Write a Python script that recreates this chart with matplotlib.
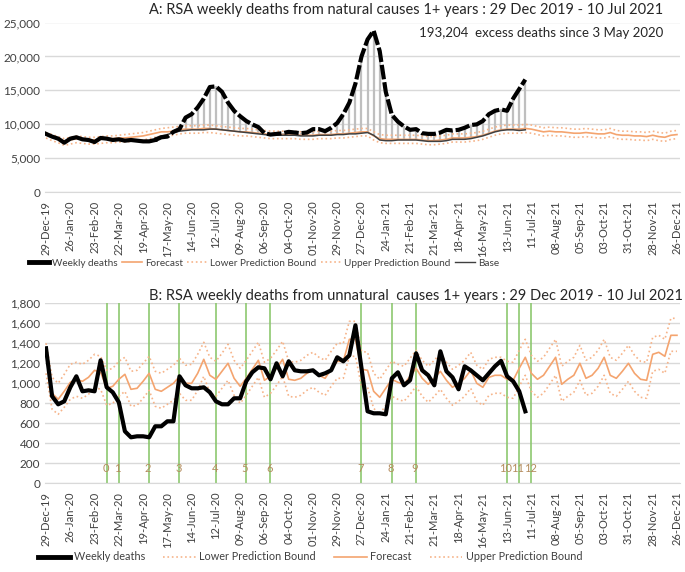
import numpy as np
import pandas as pd
import matplotlib
matplotlib.use('Agg')
import matplotlib.pyplot as plt
from matplotlib.lines import Line2D
from matplotlib.ticker import FuncFormatter

plt.rcParams['font.family'] = ['Lato', 'DejaVu Sans']

# weeks 29-Dec-2019 .. 26-Dec-2021
weeks = pd.date_range('2019-12-29', periods=105, freq='7D')

# ---- A: natural causes ----
natural = [8600, 8200, 7900, 7300, 7900, 8100, 7800, 7700, 7400, 8000,
           7900, 7700, 7800, 7600, 7700, 7600, 7500, 7500, 7700, 8100,
           8200, 8900, 9300, 11000, 11500, 12500, 13800, 15500, 15600, 14800,
           13200, 12000, 11200, 10500, 10000, 9600, 8700, 8500, 8600, 8700,
           8900, 8800, 8700, 8800, 9300, 9300, 9000, 9500, 10200, 11500,
           13200, 16000, 20000, 22500, 23800, 20800, 14800, 11400, 10400, 9700,
           9200, 9300, 8700, 8600, 8600, 8800, 9200, 9100, 9200, 9500,
           9900, 10000, 10500, 11500, 12000, 12200, 12000, 13800, 15200, 16600]

# base from 3 May 2020 (week 18) to week 79
base = [8000, 8300, 8500, 8800, 9000, 9100, 9200, 9200, 9200, 9300, 9300, 9200,
        9100, 9000, 8900, 8800, 8700, 8600, 8500, 8400, 8400, 8400,
        8400, 8400, 8300, 8300, 8300, 8400, 8400, 8400, 8500, 8500,
        8600, 8600, 8700, 8800, 8400, 7700, 7600, 7600, 7700, 7700,
        7700, 7700, 7600, 7500, 7500, 7500, 7600, 7800, 7800, 7800,
        7900, 8100, 8300, 8600, 8900, 9100, 9200, 9200, 9100, 9200]

forecast_nat = [8500, 8200, 7900, 7500, 7700, 7900, 7800, 7700, 7700, 7800,
                7900, 7900, 8000, 8000, 8100, 8200, 8300, 8500, 8700, 8900,
                8900, 9000, 9200, 9300, 9300, 9300, 9400, 9400, 9300, 9200,
                9100, 9000, 8900, 8900, 8800, 8700, 8600, 8500, 8500, 8500,
                8500, 8500, 8400, 8400, 8400, 8500, 8500, 8500, 8600, 8600,
                8700, 8800, 8900, 8900, 8300, 7900, 7800, 7800, 7800, 7800,
                7800, 7800, 7700, 7600, 7600, 7700, 7800, 8000, 8000, 8000,
                8100, 8200, 8400, 8700, 9000, 9200, 9300, 9300, 9300, 9400,
                9300, 9100, 8900, 9000, 8900, 8900, 8800, 8700, 8700, 8800,
                8700, 8600, 8600, 8800, 8500, 8400, 8400, 8300, 8300, 8200,
                8400, 8200, 8100, 8400, 8500]

upper_nat = [8800, 8500, 8200, 7900, 8100, 8300, 8200, 8100, 8100, 8200,
             8300, 8300, 8400, 8500, 8600, 8700, 8800, 9000, 9200, 9400,
             9500, 9600, 9700, 9800, 9800, 9800, 9900, 9900, 9800, 9700,
             9600, 9500, 9400, 9400, 9300, 9200, 9100, 9000, 9000, 9000,
             9000, 9000, 8900, 8900, 8900, 9000, 9000, 9000, 9100, 9100,
             9200, 9300, 9400, 9400, 8900, 8500, 8400, 8400, 8400, 8400,
             8400, 8400, 8300, 8200, 8200, 8300, 8400, 8600, 8600, 8600,
             8700, 8800, 9000, 9300, 9600, 9800, 9900, 9900, 9900, 10000,
             9900, 9700, 9500, 9600, 9500, 9500, 9400, 9300, 9300, 9400,
             9300, 9200, 9200, 9400, 9100, 9000, 9000, 8900, 8900, 8800,
             9000, 8800, 8700, 9000, 9100]

lower_nat = [8000, 7600, 7300, 6900, 7100, 7300, 7200, 7100, 7100, 7200,
             7300, 7300, 7400, 7400, 7500, 7600, 7700, 7900, 8100, 8300,
             8300, 8400, 8600, 8700, 8700, 8700, 8800, 8800, 8700, 8600,
             8500, 8400, 8300, 8300, 8200, 8100, 8000, 7900, 7900, 7900,
             7900, 7900, 7800, 7800, 7800, 7900, 7900, 7900, 8000, 8000,
             8100, 8200, 8300, 8300, 7700, 7300, 7200, 7200, 7200, 7200,
             7200, 7200, 7100, 7000, 7000, 7100, 7200, 7400, 7400, 7400,
             7500, 7600, 7800, 8100, 8400, 8600, 8700, 8700, 8700, 8800,
             8700, 8500, 8300, 8400, 8300, 8300, 8200, 8100, 8100, 8200,
             8100, 8000, 8000, 8200, 7900, 7800, 7800, 7700, 7700, 7600,
             7800, 7600, 7500, 7800, 7900]

# ---- B: unnatural causes ----
unnatural = [1350, 870, 790, 820, 960, 1070, 920, 930, 920, 1230,
             960, 910, 810, 520, 460, 470, 470, 460, 570, 570,
             620, 620, 1070, 980, 950, 950, 960, 910, 820, 790,
             790, 850, 850, 1020, 1110, 1160, 1150, 1040, 1200, 1070,
             1220, 1130, 1120, 1120, 1130, 1080, 1100, 1130, 1260, 1220,
             1280, 1580, 1150, 720, 700, 700, 690, 1050, 1110, 980,
             1030, 1300, 1130, 1080, 980, 1320, 1120, 1060, 940, 1170,
             1130, 1080, 1030, 1100, 1170, 1225, 1070, 1020, 920, 720]

forecast_un = [1300, 900, 840, 920, 1010, 1040, 1020, 1060, 1130, 1110,
               950, 970, 1040, 1090, 940, 950, 1020, 1100, 940, 920,
               960, 1000, 1070, 1000, 1000, 1100, 1240, 1080, 1040, 1120,
               1200, 1050, 970, 1050, 1140, 1230, 1030, 1070, 1150, 1240,
               1040, 1030, 1050, 1100, 1130, 1080, 1050, 1140, 1220, 1220,
               1440, 1440, 1140, 1130, 920, 860, 950, 1040, 1010, 990,
               1070, 1150, 1050, 990, 1050, 1120, 1030, 960, 1000, 1050,
               1130, 1000, 960, 1060, 1080, 1080, 1040, 1030, 1150, 1260,
               1100, 1040, 1080, 1170, 1260, 990, 1040, 1080, 1200, 1050,
               1080, 1150, 1260, 1080, 1050, 1120, 1200, 1100, 1040, 1030,
               1290, 1310, 1270, 1480, 1480]

upper_un = [1400, 1060, 1000, 1090, 1190, 1210, 1190, 1230, 1290, 1270,
            1130, 1150, 1220, 1260, 1120, 1130, 1200, 1270, 1120, 1100,
            1140, 1180, 1250, 1180, 1190, 1290, 1410, 1260, 1220, 1300,
            1390, 1230, 1150, 1230, 1320, 1410, 1210, 1250, 1330, 1420,
            1220, 1210, 1230, 1280, 1310, 1260, 1230, 1320, 1400, 1400,
            1620, 1620, 1320, 1310, 1100, 1040, 1130, 1220, 1190, 1170,
            1250, 1330, 1230, 1170, 1230, 1300, 1210, 1140, 1180, 1230,
            1310, 1180, 1140, 1240, 1260, 1260, 1220, 1210, 1330, 1440,
            1280, 1220, 1260, 1350, 1440, 1170, 1220, 1260, 1380, 1230,
            1260, 1330, 1440, 1260, 1230, 1300, 1380, 1280, 1220, 1210,
            1460, 1480, 1440, 1650, 1650]

lower_un = [1100, 740, 690, 760, 840, 870, 850, 890, 960, 940,
            780, 800, 870, 920, 770, 780, 850, 930, 770, 750,
            790, 830, 900, 830, 830, 930, 1070, 910, 870, 950,
            1030, 880, 800, 880, 970, 1060, 860, 900, 980, 1070,
            870, 860, 880, 930, 960, 910, 880, 970, 1050, 1050,
            1270, 1270, 970, 960, 750, 690, 780, 870, 840, 820,
            890, 970, 870, 810, 870, 940, 850, 780, 820, 870,
            950, 820, 780, 880, 900, 900, 860, 850, 970, 1080,
            920, 860, 900, 990, 1080, 820, 870, 910, 1030, 880,
            900, 970, 1080, 900, 870, 940, 1020, 920, 860, 850,
            1120, 1140, 1100, 1320, 1320]

# lockdown level changes (week index) labelled 0..12
events = [10, 12, 17, 22, 28, 33, 37, 52, 57, 61, 76, 78, 80]

x = np.arange(len(weeks))
tick_pos = x[::4]
tick_labels = [d.strftime('%d-%b-%y') for d in weeks[::4]]

ORANGE = '#f4a46f'
ORANGE_L = '#f6b48a'
GRID = '#d9d9d9'
TXT = '#404040'

fig = plt.figure(figsize=(6.85, 5.72), dpi=100)
ax1 = fig.add_axes([45/685, 1-192.3/572, 635/685, (192.3-22.5)/572])
ax2 = fig.add_axes([45/685, 1-483.3/572, 635/685, (483.3-303.3)/572])

for ax in (ax1, ax2):
    ax.set_xlim(-0.17, 104.5)
    ax.set_xticks(tick_pos)
    ax.set_xticklabels(tick_labels, rotation=90, fontsize=8, color=TXT)
    ax.grid(axis='y', color=GRID, lw=1)
    ax.set_axisbelow(True)
    for s in ['top', 'right', 'left']:
        ax.spines[s].set_visible(False)
    ax.spines['bottom'].set_color(GRID)
    ax.tick_params(length=0, labelsize=8.5, colors=TXT)
    ax.tick_params(axis='x', labelsize=8, pad=6)
    ax.yaxis.set_major_formatter(FuncFormatter(lambda v, p: '{:,.0f}'.format(v)))

# top chart
ax1.set_ylim(0, 25000)
ax1.set_yticks(np.arange(0, 25001, 5000))
xe = x[18:80]
ax1.vlines(xe, base, natural[18:], color='#bfbfbf', lw=1.6, zorder=2)
ax1.plot(x, upper_nat, ':', color=ORANGE_L, lw=1.2, zorder=3)
ax1.plot(x, lower_nat, ':', color=ORANGE_L, lw=1.2, zorder=3)
ax1.plot(x, forecast_nat, color=ORANGE, lw=1.2, zorder=3)
ax1.plot(xe, base, color=TXT, lw=1.1, zorder=4)
ax1.plot(x[:19], natural[:19], color='black', lw=3, zorder=5)
ax1.plot(xe, natural[18:], color='black', lw=3, dashes=(3.5, 0.7), zorder=5)

# bottom chart
ax2.set_ylim(0, 1800)
ax2.set_yticks(np.arange(0, 1801, 200))
for i, w in enumerate(events):
    ax2.axvline(w, color='#8dc870', lw=1.2, zorder=1)
    ax2.text(w - 0.2, 150, str(i), ha='center', va='center', fontsize=8,
             color='#b48c5e', zorder=6)
ax2.plot(x, upper_un, ':', color=ORANGE_L, lw=1.2, zorder=3)
ax2.plot(x, lower_un, ':', color=ORANGE_L, lw=1.2, zorder=3)
ax2.plot(x, forecast_un, color=ORANGE, lw=1.2, zorder=3)
ax2.plot(x[:80], unnatural, color='black', lw=3, zorder=5)

# titles / notes
fig.text(663/685, 1-10/572,
         'A: RSA weekly deaths from natural causes 1+ years : 29 Dec 2019 - 10 Jul 2021',
         ha='right', va='center', fontsize=10.5, color='#262626')
fig.text(663/685, 1-33/572, '193,204  excess deaths since 3 May 2020',
         ha='right', va='center', fontsize=9.5, color='#262626')
fig.text(683/685, 1-296/572,
         'B: RSA weekly deaths from unnatural  causes 1+ years : 29 Dec 2019 - 10 Jul 2021',
         ha='right', va='center', fontsize=10.5, color='#262626')

h_dead = Line2D([], [], color='black', lw=3.5)
h_fc = Line2D([], [], color=ORANGE, lw=1.2)
h_lo = Line2D([], [], color=ORANGE_L, lw=1.2, ls=':')
h_up = Line2D([], [], color=ORANGE_L, lw=1.2, ls=':')
h_base = Line2D([], [], color=TXT, lw=1)

fig.legend([h_dead, h_fc, h_lo, h_up, h_base],
           ['Weekly deaths', 'Forecast', 'Lower Prediction Bound',
            'Upper Prediction Bound', 'Base'],
           loc='center', bbox_to_anchor=(264/685, 1-263/572), ncol=5,
           frameon=False, fontsize=7.2, handlelength=2.0, columnspacing=0.45,
           handletextpad=0.3, labelcolor=TXT, borderpad=0.1)
fig.legend([h_dead, h_lo, h_fc, h_up],
           ['Weekly deaths', 'Lower Prediction Bound', 'Forecast',
            'Upper Prediction Bound'],
           loc='center', bbox_to_anchor=(310/685, 1-557/572), ncol=4,
           frameon=False, fontsize=7.8, handlelength=3.0, columnspacing=1.7,
           handletextpad=0.3, labelcolor=TXT, borderpad=0.1)

fig.savefig('out.png', dpi=100)
